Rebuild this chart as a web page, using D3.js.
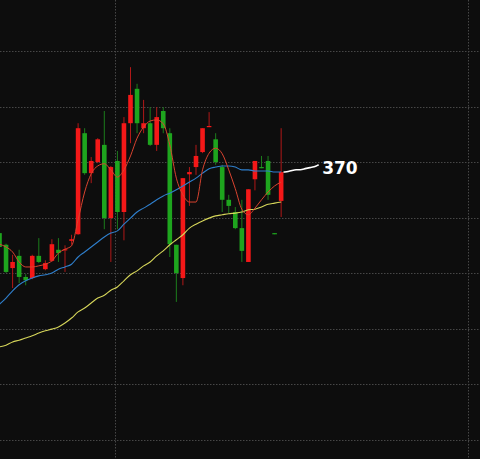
<!DOCTYPE html>
<html>
<head>
<meta charset="utf-8">
<script src="https://cdn.jsdelivr.net/npm/d3@7"></script>
<style>
  html, body { margin: 0; padding: 0; background: #0d0d0d; }
  svg { display: block; }
</style>
</head>
<body>
<svg id="chart" width="480" height="459"></svg>
<script>
// ---- data (prices) ----
const openP  = [359.2,357.1,352.9,355.1,351.3,351.1,355.1,352.7,354.2,356.2,356.2,357.8,359.0,377.2,370.0,372.0,375.1,361.9,372.2,363.0,379.0,385.2,378.1,379.0,375.1,381.2,377.2,357.1,351.1,369.8,371.1,373.8,378.3,376.1,371.1,365.2,363.0,360.1,354.0,368.9,371.1,372.2,359.2,365.0];
const highP  = [359.8,357.3,355.3,356.2,351.8,355.3,358.3,354.3,358.1,358.3,357.0,358.9,379.0,378.1,372.9,376.3,381.2,371.3,374.0,380.1,389.1,386.1,383.2,381.9,381.9,381.9,378.1,357.1,369.1,371.1,375.1,378.1,381.0,377.2,371.5,366.1,363.9,365.2,367.1,372.2,373.1,373.1,359.2,378.1];
const lowP   = [356.5,352.0,349.3,350.2,349.8,350.9,353.8,352.5,354.0,354.0,352.2,357.1,358.9,369.7,368.2,371.8,359.9,354.0,359.9,357.9,375.4,377.2,377.2,374.9,374.0,377.2,354.9,346.8,349.8,364.1,369.7,373.6,378.3,371.5,363.0,362.8,359.9,354.0,354.0,366.9,370.9,365.2,359.0,362.1];
const closeP = [356.7,352.2,354.0,351.3,350.7,355.1,354.0,353.8,357.2,355.6,356.3,358.1,378.1,370.0,372.2,376.1,361.9,371.1,363.0,379.0,384.1,379.0,379.0,375.1,380.1,378.1,357.2,352.0,369.1,370.2,373.1,378.1,378.5,372.0,365.2,364.1,360.1,356.0,367.1,372.2,370.9,366.1,359.0,370.2];
const maShort = [357.2,356.7,355.8,354.0,353.1,353.1,353.3,353.6,354.2,355.6,356.3,356.9,361.6,366.6,369.9,371.3,371.7,370.6,369.3,370.6,373.1,376.3,378.3,379.4,379.6,378.9,375.1,369.1,366.1,364.8,364.8,370.6,373.6,374.5,373.5,370.6,367.2,363.5,362.5,363.7,365.2,366.6,367.7,368.4];
const maMid   = [346.4,347.5,348.8,349.9,350.6,351.1,351.5,351.7,352.0,352.7,353.1,353.6,354.9,355.8,356.7,357.6,358.5,359.2,359.6,360.8,361.9,363.0,363.7,364.4,365.2,365.9,366.4,367.0,367.7,368.4,369.1,370.0,370.8,371.1,371.3,371.3,371.1,370.6,370.6,370.4,370.4,370.4,370.2,370.2];
const maLong  = [338.7,339.0,339.6,339.9,340.3,340.7,341.2,341.6,341.9,342.3,343.0,343.9,345.0,345.7,346.6,347.5,348.0,348.9,349.5,350.6,351.7,352.4,353.3,354.0,355.1,356.0,357.1,358.0,358.9,360.1,360.8,361.4,361.9,362.3,362.5,362.7,362.8,363.0,363.4,363.5,363.9,364.4,364.6,364.8];
const gridPrices = [392, 382, 372, 362, 352, 342, 332, 322];
const gridBars   = [17.6, 71.5];   // period separators (bar index units)
const lastLabel  = "370";

// ---- layout ----
const W = 480, H = 459;
const svg = d3.select("#chart");
svg.append("rect").attr("width", W).attr("height", H).attr("fill", "#0d0d0d");

const x = d3.scaleLinear().domain([0, 73]).range([-0.5, -0.5 + 6.55 * 73]);
const y = d3.scaleLinear().domain([318.5, 401.2]).range([H, 0]);
const bodyW = 4.6;

const candles = openP.map((o, i) => ({ i, o, h: highP[i], l: lowP[i], c: closeP[i] }));

// grid
const gridColor = "#474747";
svg.append("g").selectAll("line").data(gridPrices).join("line")
  .attr("x1", 0).attr("x2", W)
  .attr("y1", d => Math.round(y(d)) + 0.5).attr("y2", d => Math.round(y(d)) + 0.5)
  .attr("stroke", gridColor).attr("stroke-width", 1).attr("stroke-dasharray", "1.5,1.5");
svg.append("g").selectAll("line").data(gridBars).join("line")
  .attr("y1", 0).attr("y2", H)
  .attr("x1", d => Math.round(x(d)) + 0.5).attr("x2", d => Math.round(x(d)) + 0.5)
  .attr("stroke", gridColor).attr("stroke-width", 1).attr("stroke-dasharray", "1.5,1.5");

// candles
const upBody = "#f41818", upWick = "#b01818";
const dnBody = "#1ea51e", dnWick = "#1c7c1c";
const cg = svg.append("g");
cg.selectAll("line").data(candles).join("line")
  .attr("x1", d => x(d.i)).attr("x2", d => x(d.i))
  .attr("y1", d => y(d.h)).attr("y2", d => y(d.l))
  .attr("stroke", d => d.c >= d.o ? upWick : dnWick).attr("stroke-width", 1);
cg.selectAll("rect").data(candles).join("rect")
  .attr("x", d => x(d.i) - bodyW / 2).attr("width", bodyW)
  .attr("y", d => y(Math.max(d.o, d.c)))
  .attr("height", d => Math.max(1.2, Math.abs(y(d.o) - y(d.c))))
  .attr("fill", d => d.c >= d.o ? upBody : dnBody);

// moving averages
const line = d3.line().x((d, i) => x(i)).y(d => y(d)).curve(d3.curveMonotoneX);
svg.append("path").datum(maLong).attr("d", line).attr("fill", "none").attr("stroke", "#d6d65a").attr("stroke-width", 1.1);
svg.append("path").datum(maMid).attr("d", line).attr("fill", "none").attr("stroke", "#2f7fcc").attr("stroke-width", 1.1);
svg.append("path").datum(maShort).attr("d", line).attr("fill", "none").attr("stroke", "#d8432f").attr("stroke-width", 1);

// annotation: hand-drawn pointer to the last close and its label
const last = candles[candles.length - 1];
const ax = x(last.i) + 3, ay = y(last.c);
const squiggle = [[0, 0], [4, -0.5], [8, -1.5], [12, -2.5], [16, -2], [21, -3.5], [26, -4.5], [30, -5], [34, -7]];
svg.append("path")
  .attr("d", d3.line().curve(d3.curveBasis)(squiggle.map(p => [ax + p[0], ay + p[1]])))
  .attr("fill", "none").attr("stroke", "#ffffff").attr("stroke-width", 1.6).attr("stroke-linecap", "round");
svg.append("text")
  .attr("x", ax + 38).attr("y", ay + 2)
  .attr("fill", "#ffffff")
  .attr("font-family", "'DejaVu Sans', sans-serif")
  .attr("font-weight", "bold").attr("font-size", 17)
  .text(lastLabel);
</script>
</body>
</html>
